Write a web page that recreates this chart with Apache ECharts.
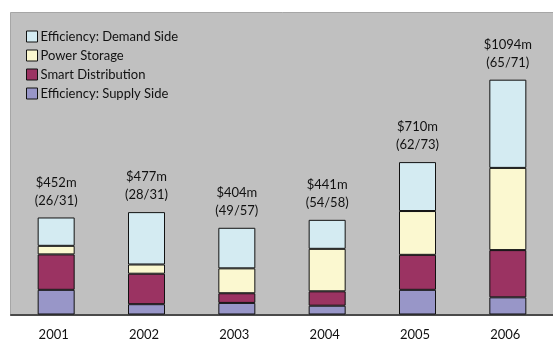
<!DOCTYPE html>
<html>
<head>
<meta charset="utf-8">
<script src="https://cdn.jsdelivr.net/npm/echarts@6/dist/echarts.min.js"></script>
<style>
  html, body { margin: 0; padding: 0; background: #ffffff; }
  #chart { width: 553px; height: 343px; }
</style>
</head>
<body>
<div id="chart"></div>
<script>
// Annual investment by segment, $m
const years = ['2001', '2002', '2003', '2004', '2005', '2006'];
const supplySide = [115, 48, 54, 41, 115, 80];
const smartDistribution = [165, 142, 45, 67, 163, 220];
const powerStorage = [40, 43, 116, 198, 204, 383];
const demandSide = [132, 244, 189, 135, 228, 411];
// deal counts shown under each yearly total
const dealCounts = ['26/31', '28/31', '49/57', '54/58', '62/73', '65/71'];

const totals = years.map((_, i) =>
  supplySide[i] + smartDistribution[i] + powerStorage[i] + demandSide[i]);

const FONT = 'Lato, "Open Sans", sans-serif';
const border = { borderColor: '#111', borderWidth: 1 };

function barSeries(name, data, color, extra) {
  return Object.assign({
    name: name,
    type: 'bar',
    stack: 'total',
    data: data,
    barWidth: 37,
    itemStyle: Object.assign({ color: color }, border),
    emphasis: { disabled: true }
  }, extra || {});
}

const chart = echarts.init(document.getElementById('chart'), null, { renderer: 'canvas' });
chart.setOption({
  animation: false,
  textStyle: { fontFamily: FONT },
  graphic: [{
    type: 'rect',
    z: -10,
    silent: true,
    shape: { x: 10.5, y: 12.5, width: 560, height: 303 },
    style: { fill: '#c0c0c0', stroke: '#a6a6a6', lineWidth: 1 }
  }],
  legend: {
    orient: 'vertical',
    left: 21,
    top: 25,
    itemWidth: 11,
    itemHeight: 11,
    itemGap: 6,
    icon: 'rect',
    data: ['Efficiency: Demand Side', 'Power Storage', 'Smart Distribution', 'Efficiency: Supply Side'],
    textStyle: { fontFamily: FONT, fontSize: 13, color: '#111', padding: [0, 0, 0, -2] },
    itemStyle: { borderColor: '#111', borderWidth: 1 }
  },
  grid: { left: 11, right: -10, top: 14, bottom: 28.5 },
  xAxis: {
    type: 'category',
    data: years,
    axisLine: { lineStyle: { color: '#4a4a4a', width: 2 } },
    axisTick: { show: false },
    axisLabel: { fontFamily: FONT, fontSize: 13, color: '#111', margin: 14, padding: [0, 5, 0, 0] }
  },
  yAxis: {
    type: 'value',
    min: 0,
    max: 1400,
    show: false,
    splitLine: { show: false }
  },
  series: [
    barSeries('Efficiency: Supply Side', supplySide, '#9896c8'),
    barSeries('Smart Distribution', smartDistribution, '#9b3362'),
    barSeries('Power Storage', powerStorage, '#fbf8d0'),
    barSeries('Efficiency: Demand Side', demandSide, '#d4ebf2', {
      label: {
        show: true,
        position: 'top',
        distance: 8,
        fontFamily: FONT,
        fontSize: 13,
        lineHeight: 18,
        color: '#111',
        formatter: p => '$' + totals[p.dataIndex] + 'm\n(' + dealCounts[p.dataIndex] + ')'
      }
    })
  ]
});
</script>
</body>
</html>
